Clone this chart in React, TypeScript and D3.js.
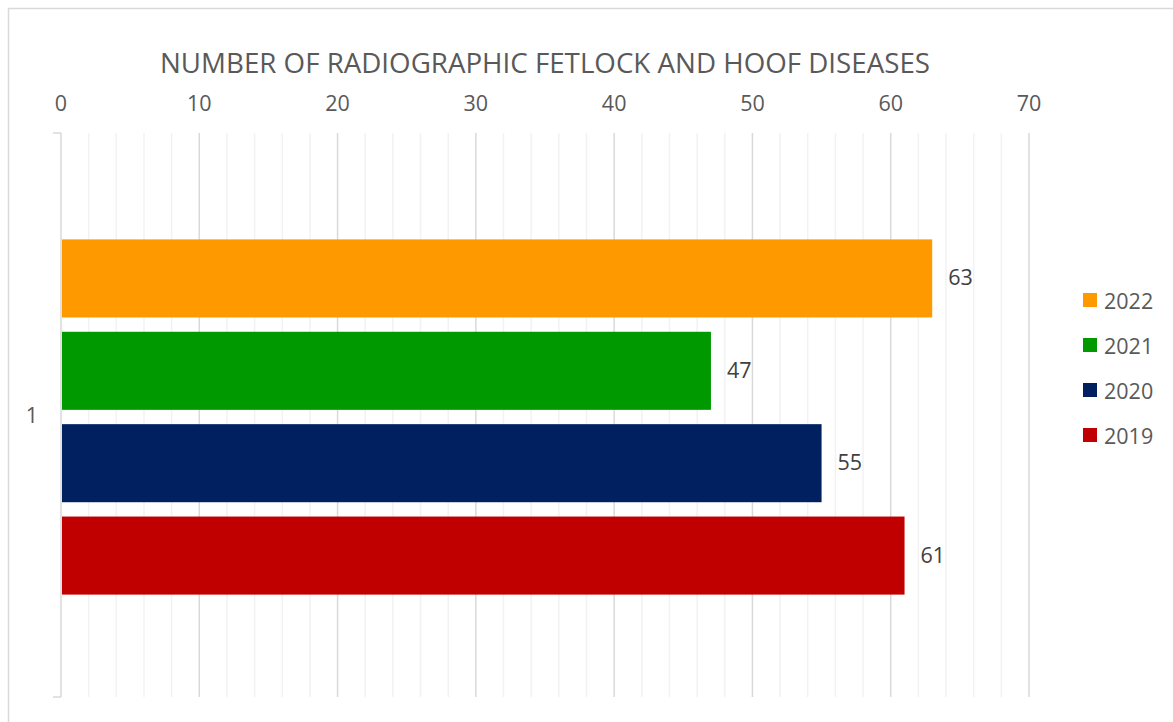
import { useEffect, useRef } from 'react';
import * as d3 from 'd3';

const categories = ['1'];
const seriesNames = ['2019', '2020', '2021', '2022'];
const seriesValues = [61, 55, 47, 63];
const seriesColors = ['#C00000', '#002060', '#009900', '#FF9900'];
const xTicks = [0, 10, 20, 30, 40, 50, 60, 70];

const FONT = '"Open Sans", "DejaVu Sans", sans-serif';
const LABEL_SIZE = 21.5;

export default function App() {
  const svgRef = useRef<SVGSVGElement>(null);

  useEffect(() => {
    if (!svgRef.current) return;
    const svg = d3.select(svgRef.current);
    svg.selectAll('*').remove();

    const W = 1173;
    const H = 722;
    const plot = { left: 61, right: 1029, top: 133, bottom: 697 };

    // chart frame
    svg
      .append('rect')
      .attr('x', 8.5)
      .attr('y', 8.5)
      .attr('width', W + 10)
      .attr('height', H + 10)
      .attr('fill', '#fff')
      .attr('stroke', '#d9d9d9')
      .attr('stroke-width', 1.5);

    const x = d3.scaleLinear().domain([0, 70]).range([plot.left, plot.right]);
    const yCat = d3.scaleBand().domain(categories).range([plot.top, plot.bottom]);
    // Excel draws the first series at the bottom
    const order = seriesNames.slice().reverse();
    const ySeries = d3
      .scaleBand()
      .domain(order)
      .range([(yCat(categories[0]) || 0) + 2, (yCat(categories[0]) || 0) + yCat.bandwidth() + 2])
      .paddingInner(0.155)
      .paddingOuter(1.13);

    // minor grid
    svg
      .append('g')
      .selectAll('line')
      .data(d3.range(2, 70, 2).filter((d) => d % 10 !== 0))
      .enter()
      .append('line')
      .attr('x1', (d) => x(d))
      .attr('x2', (d) => x(d))
      .attr('y1', plot.top)
      .attr('y2', plot.bottom)
      .attr('stroke', '#f2f2f2')
      .attr('stroke-width', 1.5);

    // major grid
    svg
      .append('g')
      .selectAll('line')
      .data(xTicks.filter((d) => d > 0))
      .enter()
      .append('line')
      .attr('x1', (d) => x(d))
      .attr('x2', (d) => x(d))
      .attr('y1', plot.top)
      .attr('y2', plot.bottom)
      .attr('stroke', '#d9d9d9')
      .attr('stroke-width', 1.5);

    // category axis
    const axisG = svg.append('g').attr('stroke', '#d9d9d9').attr('stroke-width', 1.5);
    axisG
      .append('line')
      .attr('x1', x(0))
      .attr('x2', x(0))
      .attr('y1', plot.top)
      .attr('y2', plot.bottom);
    [plot.top, plot.bottom].forEach((yy) => {
      axisG
        .append('line')
        .attr('x1', x(0) - 8)
        .attr('x2', x(0))
        .attr('y1', yy)
        .attr('y2', yy);
    });

    svg
      .append('text')
      .attr('x', 32)
      .attr('y', (yCat(categories[0]) || 0) + yCat.bandwidth() / 2 + 8)
      .attr('text-anchor', 'middle')
      .attr('font-family', FONT)
      .attr('font-size', LABEL_SIZE)
      .attr('fill', '#595959')
      .text(categories[0]);

    // value axis labels (top)
    svg
      .append('g')
      .selectAll('text')
      .data(xTicks)
      .enter()
      .append('text')
      .attr('x', (d) => x(d))
      .attr('y', 111)
      .attr('text-anchor', 'middle')
      .attr('font-family', FONT)
      .attr('font-size', LABEL_SIZE)
      .attr('fill', '#595959')
      .text((d) => String(d));

    // bars
    const data = seriesNames.map((name, i) => ({ name, value: seriesValues[i], color: seriesColors[i] }));
    svg
      .append('g')
      .selectAll('rect')
      .data(data)
      .enter()
      .append('rect')
      .attr('x', x(0) + 1)
      .attr('y', (d) => ySeries(d.name) || 0)
      .attr('width', (d) => x(d.value) - x(0) - 1)
      .attr('height', ySeries.bandwidth())
      .attr('fill', (d) => d.color);

    // data labels
    svg
      .append('g')
      .selectAll('text')
      .data(data)
      .enter()
      .append('text')
      .attr('x', (d) => x(d.value) + 16)
      .attr('y', (d) => (ySeries(d.name) || 0) + ySeries.bandwidth() / 2 + 7)
      .attr('font-family', FONT)
      .attr('font-size', LABEL_SIZE)
      .attr('fill', '#404040')
      .text((d) => String(d.value));

    // title
    svg
      .append('text')
      .attr('x', 545)
      .attr('y', 73)
      .attr('text-anchor', 'middle')
      .attr('font-family', FONT)
      .attr('font-size', 28)
      .attr('fill', '#595959')
      .attr('textLength', 770)
      .attr('lengthAdjust', 'spacingAndGlyphs')
      .text('NUMBER OF RADIOGRAPHIC FETLOCK AND HOOF DISEASES');

    // legend
    const legend = svg
      .append('g')
      .selectAll('g')
      .data(order.map((n) => data.find((d) => d.name === n)!))
      .enter()
      .append('g')
      .attr('transform', (_, i) => `translate(1083, ${293 + i * 45})`);
    legend.append('rect').attr('width', 14).attr('height', 14).attr('fill', (d) => d.color);
    legend
      .append('text')
      .attr('x', 21)
      .attr('y', 15.5)
      .attr('font-family', FONT)
      .attr('font-size', LABEL_SIZE)
      .attr('fill', '#595959')
      .text((d) => d.name);
  }, []);

  return (
    <svg
      ref={svgRef}
      width={1173}
      height={722}
      style={{ position: 'absolute', left: 0, top: 0, display: 'block' }}
    />
  );
}
